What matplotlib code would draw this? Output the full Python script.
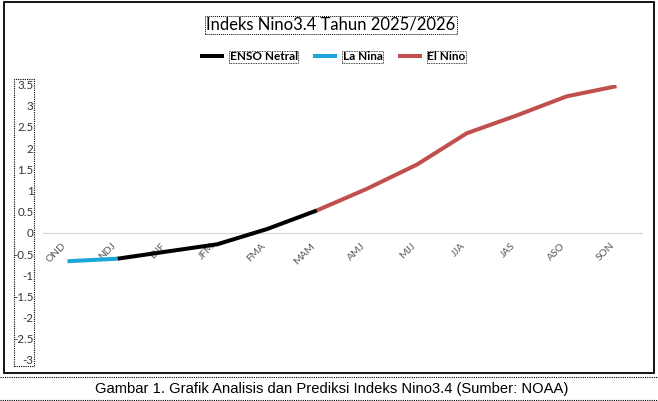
import numpy as np
import matplotlib
matplotlib.use("Agg")
import matplotlib.pyplot as plt
from matplotlib.patches import Rectangle
from matplotlib.lines import Line2D

# ---- data ----
seasons = ["OND", "NDJ", "DJF", "JFM", "FMA", "MAM", "AMJ", "MJJ", "JJA", "JAS", "ASO", "SON"]
nan = np.nan
enso_netral = [nan, -0.61, -0.44, -0.27, 0.09, 0.53, nan, nan, nan, nan, nan, nan]
la_nina = [-0.67, -0.61, nan, nan, nan, nan, nan, nan, nan, nan, nan, nan]
el_nino = [nan, nan, nan, nan, nan, 0.53, 1.04, 1.61, 2.35, 2.77, 3.22, 3.46]
yticks = [3.5, 3, 2.5, 2, 1.5, 1, 0.5, 0, -0.5, -1, -1.5, -2, -2.5, -3]
ytick_labels = ["3.5", "3", "2.5", "2", "1.5", "1", "0.5", "0", "-0.5", "-1", "-1.5", "-2", "-2.5", "-3"]
title = "Indeks Nino3.4 Tahun 2025/2026"
caption = "Gambar 1. Grafik Analisis dan Prediksi Indeks Nino3.4 (Sumber: NOAA)"

W, H = 658, 401
fig = plt.figure(figsize=(W / 100, H / 100), dpi=100)
fig.patch.set_facecolor("white")

def fx(px):
    return px / W

def fy(py):
    return 1 - py / H

# axes in pixel coordinates
ax_left, ax_right = 42.5, 641.5
ax_top, ax_bottom = 84.5, 360.0
ax = fig.add_axes([fx(ax_left), fy(ax_bottom), fx(ax_right - ax_left), (ax_bottom - ax_top) / H])
ax.set_facecolor("none")

x = np.arange(len(seasons))
lw = 2.9
l1, = ax.plot(x, enso_netral, color="black", lw=lw, solid_capstyle="butt", label="ENSO Netral", zorder=3)
l2, = ax.plot(x, la_nina, color="#1BA6DC", lw=lw, solid_capstyle="butt", label="La Nina", zorder=3)
l3, = ax.plot(x, el_nino, color="#C0504D", lw=lw, solid_capstyle="butt", label="El Nino", zorder=4)

for s in ["top", "right", "left"]:
    ax.spines[s].set_visible(False)
ax.spines["bottom"].set_position(("data", 0))
ax.spines["bottom"].set_color("#D9D9D9")
ax.spines["bottom"].set_linewidth(0.9)

ax.set_xlim(-0.5, len(seasons) - 0.5)
ax.set_ylim(-3, 3.5)
ax.set_yticks(yticks)
ax.set_yticklabels(ytick_labels, family="Lato")
ax.set_xticks(x)
ax.set_xticklabels(seasons, family="Lato")
ax.tick_params(axis="x", length=0, pad=6, labelsize=7.4, labelcolor="#595959", labelrotation=45)
ax.tick_params(axis="y", length=0, pad=6.5, labelsize=8.3, labelcolor="#333333")
for t in ax.get_xticklabels():
    t.set_ha("right")
    t.set_va("top")

# dotted selection box around y tick labels
fig.patches.append(Rectangle((fx(14), fy(366)), fx(34 - 14), (366 - 78.5) / H,
                             transform=fig.transFigure, fill=False, ec="black",
                             ls=(0, (1, 1)), lw=0.8))

# title
fig.text(fx(331), fy(25), title, ha="center", va="center", fontsize=12, family="Lato",
         color="black",
         bbox=dict(boxstyle="square,pad=0.08", fc="none", ec="black", ls=(0, (1, 1)), lw=0.7))

# legend
leg = fig.legend(handles=[l1, l2, l3], loc="center", bbox_to_anchor=(fx(333), fy(57)),
                 ncol=3, frameon=False, handlelength=2.0, handletextpad=0.5,
                 columnspacing=1.3, prop=dict(family="Lato", weight="bold", size=8.5))
for t in leg.get_texts():
    t.set_bbox(dict(boxstyle="square,pad=0.05", fc="none", ec="black", ls=(0, (1, 1)), lw=0.6))

# outer chart border
fig.patches.append(Rectangle((fx(4), fy(373)), fx(654 - 4), (373 - 2) / H,
                             transform=fig.transFigure, fill=False, ec="black", lw=1.3))
# dotted lines around caption
for py in (376.5, 399.5):
    fig.lines.append(Line2D([0, 1], [fy(py), fy(py)], transform=fig.transFigure,
                            color="black", ls=(0, (1, 1)), lw=0.8))

fig.text(fx(332), fy(388.5), caption, ha="center", va="center", fontsize=10.6,
         family="Liberation Sans", color="black")

fig.savefig("out.png", dpi=100)
